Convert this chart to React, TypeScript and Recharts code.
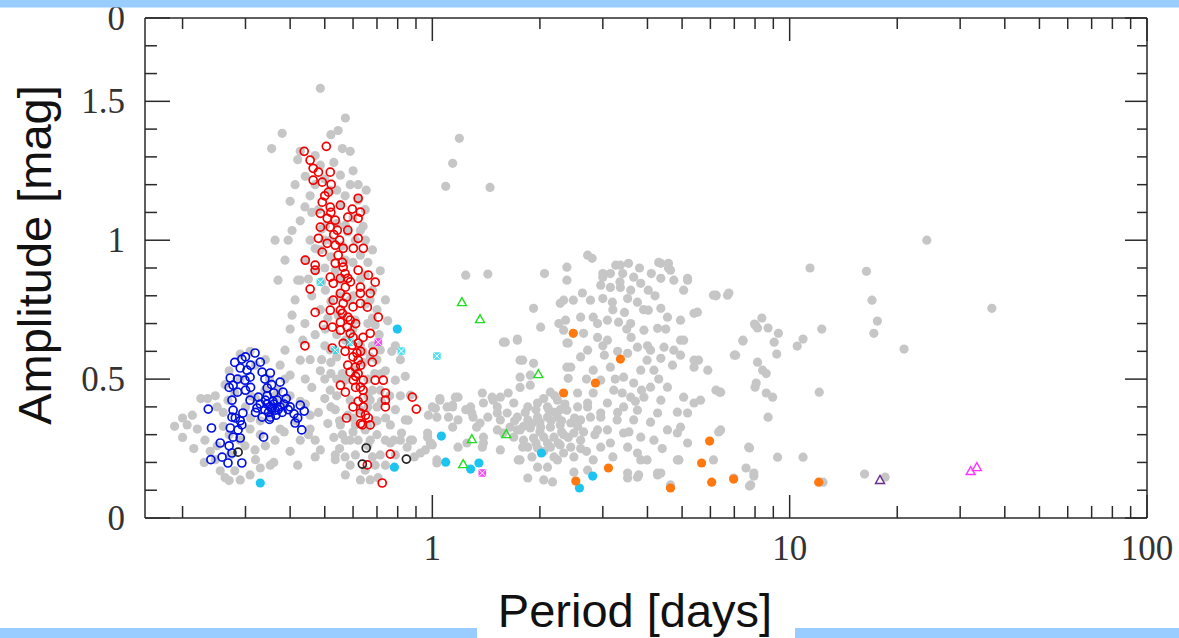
import React from 'react';
import { ScatterChart, Scatter, XAxis, YAxis } from 'recharts';

// ---------- axes ----------
const xTicks = [0.2, 0.3, 0.4, 0.5, 0.6, 0.7, 0.8, 0.9, 1, 2, 3, 4, 5, 6, 7, 8, 9, 10, 20, 30, 40, 50, 60, 70, 80, 90, 100];
const xMajor = [1, 10, 100];
const xLabels = ['1', '10', '100'];
const yTicks = [0, 0.1, 0.2, 0.3, 0.4, 0.5, 0.6, 0.7, 0.8, 0.9, 1, 1.1, 1.2, 1.3, 1.4, 1.5, 1.6, 1.7, 1.8];
const yMajor = [0, 0.5, 1, 1.5, 1.8];
const yLabels = ['0', '0.5', '1', '1.5', '0'];

// ---------- data: [period (days), amplitude (mag)] ----------
const grey: number[][] = [
  [0.206,0.335],[0.213,0.37],[0.22,0.32],[0.231,0.28],[0.239,0.24],[0.247,0.21],[0.255,0.17],[0.263,0.145],[0.272,0.227],[0.268,0.424],
  [0.247,0.44],[0.263,0.48],[0.29,0.59],[0.309,0.6],[0.341,0.57],[0.375,0.55],[0.387,0.5],[0.40,0.44],[0.363,0.44],[0.33,0.35],
  [0.309,0.32],[0.299,0.26],[0.319,0.245],[0.341,0.26],[0.363,0.28],[0.385,0.31],[0.415,0.35],[0.427,0.28],[0.455,0.37],[0.441,0.41],
  [0.33,0.18],[0.352,0.19],[0.309,0.155],[0.29,0.137],[0.19,0.33],[0.2,0.36],[0.225,0.43],[0.235,0.43],[0.27,0.135],[0.28,0.17],
  [0.32,0.21],[0.36,0.2],[0.42,0.19],[0.40,0.24],[0.375,0.32],[0.35,0.37],[0.29,0.50],[0.31,0.44],[0.27,0.30],[0.25,0.26],
  [0.23,0.2],[0.215,0.25],[0.2,0.29],[0.45,0.30],[0.47,0.22],[0.38,0.42],[0.34,0.46],[0.32,0.55],[0.27,0.53],[0.26,0.38],
  [0.28,0.45],[0.3,0.4],[0.32,0.43],[0.35,0.5],[0.37,0.46],[0.31,0.36],[0.33,0.3],[0.29,0.28],[0.26,0.33],[0.25,0.4],
  [0.486,1.547],[0.571,1.44],[0.38,1.385],[0.355,1.33],[0.427,1.32],[0.42,1.29],[0.545,1.395],[0.589,1.32],[0.653,1.18],[0.649,1.11],
  [0.629,1.035],[0.68,0.965],[0.715,0.89],[0.739,0.785],[0.75,0.71],[0.788,0.62],[0.814,0.57],[0.84,0.51],[0.814,0.44],[0.788,0.39],
  [0.763,0.335],[0.739,0.28],[0.715,0.227],[0.692,0.19],[0.705,0.145],[0.67,0.137],[0.571,0.155],[0.535,0.21],[0.486,0.245],[0.47,0.28],
  [0.455,0.32],[0.427,0.42],[0.441,0.5],[0.455,0.57],[0.434,0.64],[0.40,0.68],[0.413,0.785],[0.427,0.856],[0.387,0.928],[0.395,1.0],
  [0.405,1.035],[0.427,1.07],[0.40,1.14],[0.413,1.2],[0.441,1.23],[0.455,1.16],[0.48,1.11],[0.502,1.05],[0.486,0.965],[0.47,0.89],
  [0.502,0.82],[0.486,0.75],[0.502,0.68],[0.518,0.605],[0.486,0.53],[0.518,0.46],[0.535,0.39],[0.553,0.335],[0.589,0.28],[0.609,0.227],
  [0.649,0.172],[0.629,0.137],[0.589,0.19],[0.571,0.28],[0.67,0.28],[0.692,0.35],[0.67,0.425],[0.715,0.46],[0.739,0.53],[0.715,0.605],
  [0.692,0.695],[0.67,0.785],[0.649,0.874],[0.629,0.946],[0.609,1.0],[0.571,1.054],[0.553,1.126],[0.518,1.18],[0.486,1.27],[0.47,1.305],
  [0.553,1.234],[0.589,1.2],[0.62,1.144],[0.571,0.928],[0.535,0.892],[0.553,0.856],[0.589,0.785],[0.609,0.712],[0.571,0.64],[0.629,0.622],
  [0.609,0.532],[0.571,0.496],[0.589,0.424],[0.629,0.388],[0.609,0.335],[0.649,0.317],[0.545,0.73],[0.518,1.0],[0.455,1.0],[0.441,0.928],
  [0.42,0.856],[0.405,0.73],[0.427,0.568],[0.40,0.514],[0.387,0.604],[0.788,0.496],[0.868,0.442],[0.855,0.352],[0.814,0.28],[0.788,0.227],
  [0.739,0.19],[0.868,0.28],[0.37,0.856],[0.363,1.0],[0.52,0.4],[0.54,0.58],[0.66,0.5],[0.68,0.62],[0.7,0.3],[0.56,0.3],
  [0.5,1.22],[0.53,1.28],[0.47,1.2],[0.46,1.1],[0.5,1.0],[0.47,0.97],[0.49,0.85],[0.46,0.8],[0.52,0.78],[0.51,0.72],
  [0.47,0.66],[0.5,0.62],[0.49,0.57],[0.46,0.47],[0.5,0.5],[0.52,0.52],[0.5,0.43],[0.48,0.38],[0.51,0.34],[0.53,0.29],
  [0.55,0.25],[0.57,0.22],[0.6,0.31],[0.66,0.26],[0.68,0.22],[0.7,0.4],[0.72,0.52],[0.7,0.57],[0.71,0.66],[0.7,0.75],
  [0.68,0.82],[0.66,0.92],[0.65,1.0],[0.62,1.2],[0.6,1.25],[0.56,1.33],[0.52,1.38],[0.58,1.03],[0.55,0.8],[0.66,0.7],
  [0.64,0.56],[0.66,0.44],[0.6,0.68],[0.56,0.52],[0.54,0.44],[0.58,0.37],[0.62,0.28],[0.74,0.36],[0.76,0.44],[0.77,0.6],
  [0.54,1.18],[0.57,1.16],[0.6,1.08],[0.64,1.05],[0.56,0.98],[0.6,0.92],[0.63,0.86],[0.6,0.8],[0.65,0.77],[0.68,0.72],
  [0.64,0.6],[0.67,0.58],[0.69,0.52],[0.68,0.46],[0.66,0.4],[0.72,0.42],[0.7,0.35],[0.66,0.33],[0.6,0.36],[0.55,0.35],
  [0.54,0.5],[0.52,0.56],[0.54,0.66],[0.52,0.94],[0.5,0.9],[0.54,1.06],[0.49,1.04],[0.44,1.12],[0.45,0.86],[0.44,0.7],
  [1.05,0.424],[1.18,0.435],[1.0,0.40],[1.1,0.40],[0.975,0.37],[1.03,0.363],[1.11,0.363],[1.18,0.353],[1.24,0.39],[1.29,0.378],
  [1.39,0.414],[1.48,0.424],[1.43,0.363],[1.52,0.378],[0.88,0.28],[0.85,0.255],[0.97,0.306],[0.987,0.27],[0.926,0.234],[0.89,0.22],
  [1.03,0.198],[1.0,0.263],[1.18,0.255],[1.25,0.27],[1.33,0.327],[1.38,0.255],[1.52,0.317],[1.55,0.245],[1.73,0.317],[1.79,0.255],
  [0.84,0.353],[0.82,0.306],[0.78,0.28],[0.763,0.27],[0.535,0.227],
  [1.05,0.43],[1.16,0.435],[1.02,0.395],[1.14,0.40],[1.28,0.40],[1.38,0.45],[1.47,0.435],[1.55,0.435],[1.63,0.45],[1.76,0.47],
  [1.88,0.478],[1.76,0.507],[1.88,0.514],[1.79,0.568],[1.92,0.557],[1.58,0.633],[1.73,0.64],[2.01,0.687],[1.92,0.755],[2.26,0.70],
  [2.4,0.63],[2.38,0.543],[2.4,0.503],[2.14,0.453],[2.24,0.424],[2.1,0.40],[1.97,0.414],[1.85,0.40],[1.69,0.414],[1.62,0.378],
  [1.73,0.363],[1.85,0.353],[1.97,0.363],[2.1,0.363],[2.24,0.363],[2.38,0.388],[2.55,0.40],[2.72,0.414],[2.82,0.45],[1.65,0.327],
  [1.76,0.317],[1.88,0.324],[2.01,0.327],[2.14,0.327],[2.28,0.335],[2.44,0.342],[2.6,0.353],[2.77,0.363],[2.96,0.378],[1.69,0.291],
  [1.8,0.28],[1.92,0.288],[2.05,0.291],[2.19,0.291],[2.33,0.30],[2.49,0.306],[2.65,0.31],[2.9,0.317],[1.85,0.255],[1.97,0.252],
  [2.14,0.255],[2.28,0.263],[2.44,0.255],[2.19,0.22],[2.33,0.234],[2.49,0.22],[1.9,0.22],[1.97,0.183],[1.76,0.209],[2.1,0.183],
  [2.24,0.209],[2.05,0.137],[2.17,0.13],[1.85,0.144],[2.49,0.165],[2.72,0.172],[2.82,0.209],[2.96,0.255],[1.39,0.291],[1.36,0.342],
  [1.52,0.40],[1.55,0.353],[1.58,0.306],[0.956,0.245],[0.99,0.27],[0.97,0.291],[1.14,0.406],[1.14,0.327],[1.3,0.363],[1.03,0.209],
  [1.39,0.27],[1.74,0.209],[3.52,0.162],[3.75,0.147],[4.27,0.162],[4.85,0.209],[3.83,0.209],[1.95,0.39],[2.05,0.43],[2.2,0.38],
  [2.3,0.31],[2.0,0.31],[2.15,0.35],[2.35,0.41],[1.9,0.34],[2.25,0.27],[2.05,0.24],[2.2,0.44],[2.28,0.39],[1.82,0.38],
  [1.95,0.27],[2.1,0.27],[2.0,0.345],[2.12,0.39],[2.3,0.35],[2.4,0.29],[1.8,0.33],[1.7,0.35],[2.55,0.33],[2.6,0.25],
  [2.72,0.946],[2.8,0.935],[2.38,0.903],[3.26,0.91],[3.54,0.917],[4.3,0.92],[4.58,0.917],[4.64,0.892],[3.0,0.88],[3.15,0.88],
  [3.41,0.88],[3.66,0.867],[3.83,0.845],[4.02,0.82],[2.96,0.838],[3.15,0.83],[3.36,0.83],[3.59,0.82],[4.36,0.863],[4.74,0.856],
  [5.18,0.863],[5.05,0.82],[2.38,0.856],[2.48,0.784],[2.77,0.784],[3.0,0.79],[3.19,0.777],[3.52,0.79],[3.75,0.777],[4.02,0.748],
  [4.36,0.755],[4.55,0.723],[4.95,0.712],[5.4,0.737],[6.22,0.802],[6.76,0.81],[2.6,0.723],[2.82,0.723],[3.09,0.712],[3.32,0.705],
  [3.59,0.70],[3.91,0.676],[4.27,0.683],[2.33,0.676],[2.65,0.665],[2.9,0.65],[3.09,0.64],[3.75,0.615],[4.08,0.604],[4.45,0.615],
  [4.74,0.604],[5.05,0.64],[2.38,0.63],[2.72,0.604],[3.03,0.586],[3.52,0.593],[3.99,0.568],[4.36,0.575],[4.95,0.586],[5.56,0.568],
  [5.4,0.543],[2.44,0.543],[2.82,0.532],[3.15,0.543],[3.83,0.532],[4.17,0.532],[2.96,0.496],[3.43,0.507],[3.66,0.486],[4.08,0.471],
  [4.55,0.471],[3.22,0.46],[3.59,0.435],[3.91,0.435],[4.36,0.424],[5.05,0.435],[5.4,0.414],[6.41,0.453],[2.55,0.45],[2.72,0.40],
  [3.09,0.414],[3.43,0.40],[3.75,0.388],[4.27,0.378],[4.85,0.381],[2.96,0.363],[3.29,0.353],[3.66,0.353],[4.08,0.345],[4.55,0.317],
  [4.95,0.327],[3.09,0.317],[3.43,0.306],[3.83,0.291],[4.17,0.28],[3.15,0.27],[3.52,0.255],[3.75,0.234],[3.99,0.209],[4.27,0.155],
  [3.78,0.155],[3.52,0.144],[4.64,0.119],[4.9,0.209],[7.68,0.255],[7.55,0.18],[6.97,0.144],[7.94,0.162],[7.78,0.119],[6.41,0.317],
  [7.06,0.586],[7.4,0.64],[8.03,0.694],[2.33,0.784],[2.36,0.712],[2.06,0.88],[2.28,0.773],[2.63,0.81],[3.0,0.867],[3.36,0.91],
  [4.36,0.917],[4.58,0.9],[5.18,0.856],[6.12,0.802],[5.52,0.741],[4.95,0.64],[5.4,0.568],[5.9,0.532],[5.63,0.424],[5.18,0.378],
  [4.85,0.306],[5.18,0.27],[6.12,0.209],[6.22,0.46],[4.36,0.162],[1.24,0.874],[1.43,0.878],[1.6,0.633],[1.73,0.644],[1.76,0.568],
  [3.3,0.6],[3.6,0.65],[3.9,0.75],[4.2,0.8],[3.2,0.75],[2.9,0.7],[3.4,0.45],[3.3,0.38],[3.7,0.42],[4.7,0.55],
  [4.5,0.68],[4.0,0.62],[3.5,0.68],[2.7,0.5],[2.6,0.58],[2.5,0.36],[2.6,0.28],[2.7,0.24],[2.85,0.3],[3.2,0.22],
  [3.35,0.85],[3.8,0.9],[4.1,0.88],[3.45,0.74],[3.0,0.62],[3.25,0.5],[3.85,0.46],[4.3,0.5],[3.55,0.31],[4.4,0.25],
  [1.19,1.367],[1.14,1.277],[1.45,1.19],[1.09,1.194],
  [6.22,0.8],[6.7,0.802],[11.4,0.9],[16.4,0.888],[24.2,1.0],[17.0,0.784],[17.6,0.709],[17.2,0.665],[20.9,0.608],[36.8,0.755],
  [12.3,0.68],[10.5,0.619],[10.9,0.644],[8.36,0.72],[7.97,0.698],[8.13,0.684],[8.7,0.684],[9.3,0.665],[7.4,0.637],[9.05,0.633],
  [7.0,0.586],[9.2,0.59],[8.13,0.561],[8.4,0.532],[8.6,0.52],[8.06,0.486],[8.0,0.471],[8.6,0.45],[8.96,0.435],[6.37,0.453],
  [12.1,0.453],[8.7,0.363],[6.33,0.31],[7.72,0.252],[9.25,0.219],[10.9,0.219],[7.94,0.151],[7.72,0.115],[16.2,0.158],[18.5,0.147],
  [12.4,0.129],
];

const blue: number[][] = [
  [0.319,0.594],[0.330,0.561],[0.293,0.572],[0.272,0.504],[0.29,0.54],[0.303,0.532],[0.309,0.507],[0.299,0.496],[0.277,0.478],[0.285,0.453],
  [0.275,0.424],[0.277,0.388],[0.281,0.36],[0.272,0.324],[0.277,0.291],[0.29,0.288],[0.236,0.392],[0.241,0.324],[0.258,0.219],[0.268,0.198],
  [0.293,0.198],[0.275,0.234],[0.334,0.525],[0.352,0.522],[0.375,0.489],[0.382,0.453],[0.345,0.468],[0.341,0.424],[0.352,0.40],[0.363,0.388],
  [0.375,0.40],[0.40,0.40],[0.427,0.406],[0.438,0.385],[0.413,0.342],[0.431,0.317],[0.337,0.291],[0.309,0.424],[0.326,0.435],[0.323,0.396],
  [0.334,0.363],[0.352,0.363],[0.368,0.424],[0.295,0.378],[0.293,0.335],[0.286,0.317],[0.275,0.363],
  [0.345,0.41],[0.355,0.395],[0.36,0.41],[0.348,0.38],[0.365,0.37],[0.34,0.39],[0.358,0.42],[0.37,0.39],[0.385,0.41],[0.39,0.43],
  [0.33,0.41],[0.345,0.44],[0.36,0.45],[0.38,0.38],[0.35,0.355],[0.32,0.38],[0.31,0.47],[0.3,0.46],[0.285,0.5],[0.27,0.47],
  [0.28,0.56],[0.3,0.58],[0.31,0.55],[0.34,0.5],[0.355,0.48],[0.395,0.39],[0.41,0.375],[0.42,0.36],[0.27,0.26],[0.29,0.35],
  [0.255,0.27],[0.24,0.21],
];

const red: number[][] = [
  [0.505,1.338],[0.438,1.32],[0.455,1.288],[0.464,1.259],[0.48,1.245],[0.518,1.245],[0.464,1.216],[0.492,1.209],[0.521,1.201],[0.512,1.173],
  [0.62,1.151],[0.492,1.137],[0.518,1.119],[0.553,1.126],[0.597,1.112],[0.629,1.101],[0.486,1.097],[0.508,1.079],[0.535,1.072],[0.58,1.083],
  [0.62,1.079],[0.486,1.047],[0.518,1.047],[0.542,1.036],[0.58,1.036],[0.62,1.007],[0.48,1.007],[0.508,0.989],[0.535,0.982],[0.563,0.971],
  [0.601,0.971],[0.641,0.971],[0.492,0.957],[0.545,0.946],[0.441,0.928],[0.47,0.91],[0.47,0.892],[0.535,0.917],[0.563,0.903],[0.62,0.892],
  [0.662,0.874],[0.518,0.867],[0.553,0.863],[0.58,0.863],[0.692,0.849],[0.528,0.845],[0.571,0.831],[0.629,0.831],[0.455,0.824],[0.553,0.809],
  [0.575,0.795],[0.629,0.809],[0.67,0.809],[0.528,0.784],[0.563,0.773],[0.629,0.773],[0.518,0.748],[0.56,0.737],[0.58,0.723],[0.706,0.723],
  [0.496,0.694],[0.525,0.687],[0.578,0.687],[0.553,0.705],[0.553,0.748],[0.589,0.712],[0.658,0.759],[0.553,0.676],[0.589,0.665],[0.67,0.665],
  [0.525,0.612],[0.563,0.629],[0.597,0.622],[0.683,0.597],[0.615,0.594],[0.62,0.568],[0.609,0.543],[0.589,0.525],[0.679,0.561],[0.729,0.496],
  [0.692,0.496],[0.641,0.496],[0.601,0.496],[0.553,0.478],[0.571,0.453],[0.629,0.471],[0.739,0.45],[0.739,0.424],[0.739,0.40],[0.641,0.432],
  [0.641,0.40],[0.879,0.435],[0.902,0.392],[0.629,0.378],[0.662,0.36],[0.575,0.36],[0.637,0.335],[0.67,0.335],[0.763,0.23],[0.658,0.191],
  [0.724,0.126],[0.6,0.65],[0.61,0.7],[0.6,0.76],[0.59,0.85],[0.57,0.88],[0.56,0.92],[0.55,1.0],[0.53,1.02],[0.52,1.1],
  [0.5,1.16],[0.62,0.52],[0.63,0.55],[0.61,0.47],[0.62,0.42],[0.6,0.4],[0.65,0.37],[0.64,0.46],[0.58,0.55],[0.57,0.6],
  [0.62,0.63],[0.6,0.58],[0.61,0.51],[0.63,0.6],[0.64,0.65],[0.63,0.34],[0.44,0.62],[0.47,0.74],
];

const blackOpen: number[][] = [[0.286,0.237],[0.653,0.252],[0.637,0.194],[0.846,0.212]];
const cyanDots: number[][] = [[0.330,0.126],[0.798,0.680],[0.783,0.183],[1.06,0.295],[1.09,0.201],[1.28,0.176],[1.35,0.198],[2.02,0.234],[2.81,0.151],[2.58,0.108]];
const cyanCross: number[][] = [[0.486,0.849],[0.535,0.604],[0.589,0.633],[0.819,0.601],[1.03,0.583]];
const magentaSquares: number[][] = [[0.706,0.633],[1.38,0.162]];
const greenTriangles: number[][] = [[1.21,0.777],[1.36,0.716],[1.98,0.518],[1.29,0.284],[1.61,0.302],[1.22,0.194]];
const orangeDots: number[][] = [[2.48,0.665],[3.36,0.572],[2.86,0.486],[2.33,0.450],[3.11,0.180],[2.52,0.133],[4.64,0.108],[5.97,0.277],[5.67,0.198],[6.05,0.129],[6.97,0.140],[12.06,0.129]];
const purpleTriangles: number[][] = [[17.9,0.137]];
const magentaTriangles: number[][] = [[32.1,0.169],[33.4,0.183]];

const toPts = (arr: number[][]) => arr.map(([p, a]) => ({ p, a }));

// ---------- shapes ----------
const filled = (color: string, r = 4.6) => (props: any) => (
  <circle cx={props.cx} cy={props.cy} r={r} fill={color} stroke="none" />
);
const openCircle = (color: string) => (props: any) => (
  <circle cx={props.cx} cy={props.cy} r={4.0} fill="none" stroke={color} strokeWidth={1.7} />
);
const openTri = (color: string) => (props: any) => {
  const { cx, cy } = props;
  return (
    <polygon points={`${cx},${cy - 4.5} ${cx - 4.5},${cy + 3.5} ${cx + 4.5},${cy + 3.5}`} fill="none" stroke={color} strokeWidth={1.4} />
  );
};
const crossSquare = (color: string) => (props: any) => {
  const { cx, cy } = props;
  const s = 3.8;
  return (
    <g>
      <rect x={cx - s} y={cy - s} width={2 * s} height={2 * s} fill={color} opacity={0.8} />
      <line x1={cx - s} y1={cy - s} x2={cx + s} y2={cy + s} stroke="#fff" strokeWidth={1} />
      <line x1={cx + s} y1={cy - s} x2={cx - s} y2={cy + s} stroke="#fff" strokeWidth={1} />
    </g>
  );
};

// ---------- ticks ----------
const AXIS = '#2a2a2a';
const TICKFONT = '"Liberation Serif", "DejaVu Serif", serif';
const isMajorX = (v: number) => xMajor.some((m) => Math.abs(m - v) < 1e-9);
const majorYIndex = (v: number) => yMajor.findIndex((m) => Math.abs(m - v) < 1e-9);

const BottomTick = (props: any) => {
  const { x, y, payload } = props;
  const v = payload.value;
  const idx = xMajor.findIndex((m) => Math.abs(m - v) < 1e-9);
  const len = idx >= 0 ? 23 : 12;
  return (
    <g>
      <line x1={x} x2={x} y1={y} y2={y - len} stroke={AXIS} strokeWidth={1.5} />
      {idx >= 0 && (
        <text x={x} y={y + 42} textAnchor="middle" fontFamily={TICKFONT} fontSize={35} fill="#333">
          {xLabels[idx]}
        </text>
      )}
    </g>
  );
};
const TopTick = (props: any) => {
  const { x, y, payload } = props;
  const len = isMajorX(payload.value) ? 23 : 11;
  return <line x1={x} x2={x} y1={y} y2={y + len} stroke={AXIS} strokeWidth={1.5} />;
};
const LeftTick = (props: any) => {
  const { x, y, payload } = props;
  const idx = majorYIndex(payload.value);
  const len = idx >= 0 ? 25 : 12;
  return (
    <g>
      <line x1={x} x2={x + len} y1={y} y2={y} stroke={AXIS} strokeWidth={1.5} />
      {idx >= 0 && (
        <text x={x - 20} y={y + 12} textAnchor="end" fontFamily={TICKFONT} fontSize={35} fill="#333">
          {yLabels[idx]}
        </text>
      )}
    </g>
  );
};
const RightTick = (props: any) => {
  const { x, y, payload } = props;
  const len = majorYIndex(payload.value) >= 0 ? 22 : 10;
  return <line x1={x} x2={x - len} y1={y} y2={y} stroke={AXIS} strokeWidth={1.5} />;
};

const W = 1179;
const H = 638;
const BAR = '#99ccff';

export default function App() {
  const xDomain: [number, number] = [0.157, 100];
  const yDomain: [number, number] = [0, 1.8];
  const axisLine = { stroke: AXIS, strokeWidth: 1.5 };
  return (
    <div style={{ position: 'absolute', left: 0, top: 0, width: W, height: H, background: '#fff', overflow: 'hidden' }}>
      <ScatterChart width={W} height={H} margin={{ top: 17, right: 31, bottom: 119, left: 144 }}>
        <XAxis xAxisId="b" orientation="bottom" type="number" dataKey="p" scale="log" domain={xDomain} allowDataOverflow
          ticks={xTicks} interval={0} height={1} tickSize={0} tickMargin={0} axisLine={axisLine} tickLine={false} tick={<BottomTick />} />
        <XAxis xAxisId="t" orientation="top" type="number" dataKey="p" scale="log" domain={xDomain} allowDataOverflow
          ticks={xTicks} interval={0} height={1} tickSize={0} tickMargin={0} axisLine={axisLine} tickLine={false} tick={<TopTick />} />
        <YAxis yAxisId="l" orientation="left" type="number" dataKey="a" domain={yDomain} allowDataOverflow
          ticks={yTicks} interval={0} width={1} tickSize={0} tickMargin={0} axisLine={axisLine} tickLine={false} tick={<LeftTick />} />
        <YAxis yAxisId="r" orientation="right" type="number" dataKey="a" domain={yDomain} allowDataOverflow
          ticks={yTicks} interval={0} width={1} tickSize={0} tickMargin={0} axisLine={axisLine} tickLine={false} tick={<RightTick />} />

        <Scatter xAxisId="b" yAxisId="l" data={toPts(grey)} shape={filled('#c6c6c6')} isAnimationActive={false} />
        <Scatter xAxisId="b" yAxisId="l" data={toPts(blue)} shape={openCircle('#0010e0')} isAnimationActive={false} />
        <Scatter xAxisId="b" yAxisId="l" data={toPts(red)} shape={openCircle('#f00000')} isAnimationActive={false} />
        <Scatter xAxisId="b" yAxisId="l" data={toPts(blackOpen)} shape={openCircle('#222222')} isAnimationActive={false} />
        <Scatter xAxisId="b" yAxisId="l" data={toPts(cyanDots)} shape={filled('#1ec4f0')} isAnimationActive={false} />
        <Scatter xAxisId="b" yAxisId="l" data={toPts(cyanCross)} shape={crossSquare('#22d8e8')} isAnimationActive={false} />
        <Scatter xAxisId="b" yAxisId="l" data={toPts(magentaSquares)} shape={crossSquare('#f020f0')} isAnimationActive={false} />
        <Scatter xAxisId="b" yAxisId="l" data={toPts(greenTriangles)} shape={openTri('#22dd22')} isAnimationActive={false} />
        <Scatter xAxisId="b" yAxisId="l" data={toPts(orangeDots)} shape={filled('#ff7810')} isAnimationActive={false} />
        <Scatter xAxisId="b" yAxisId="l" data={toPts(purpleTriangles)} shape={openTri('#6a2a8a')} isAnimationActive={false} />
        <Scatter xAxisId="b" yAxisId="l" data={toPts(magentaTriangles)} shape={openTri('#ff33ff')} isAnimationActive={false} />
      </ScatterChart>
      <svg width={W} height={H} style={{ position: 'absolute', left: 0, top: 0, pointerEvents: 'none' }}>
        <rect x={0} y={0} width={W} height={7.5} fill={BAR} />
        <rect x={0} y={628} width={477} height={10} fill={BAR} />
        <rect x={795} y={628} width={W - 795} height={10} fill={BAR} />
        <text x={635} y={627} textAnchor="middle" fontFamily='"Liberation Sans", Arial, sans-serif' fontSize={47} fill="#111">
          Period [days]
        </text>
        <text x={0} y={0} transform="translate(51,255) rotate(-90)" textAnchor="middle" fontFamily='"Liberation Sans", Arial, sans-serif' fontSize={47} fill="#111">
          Amplitude [mag]
        </text>
      </svg>
    </div>
  );
}
